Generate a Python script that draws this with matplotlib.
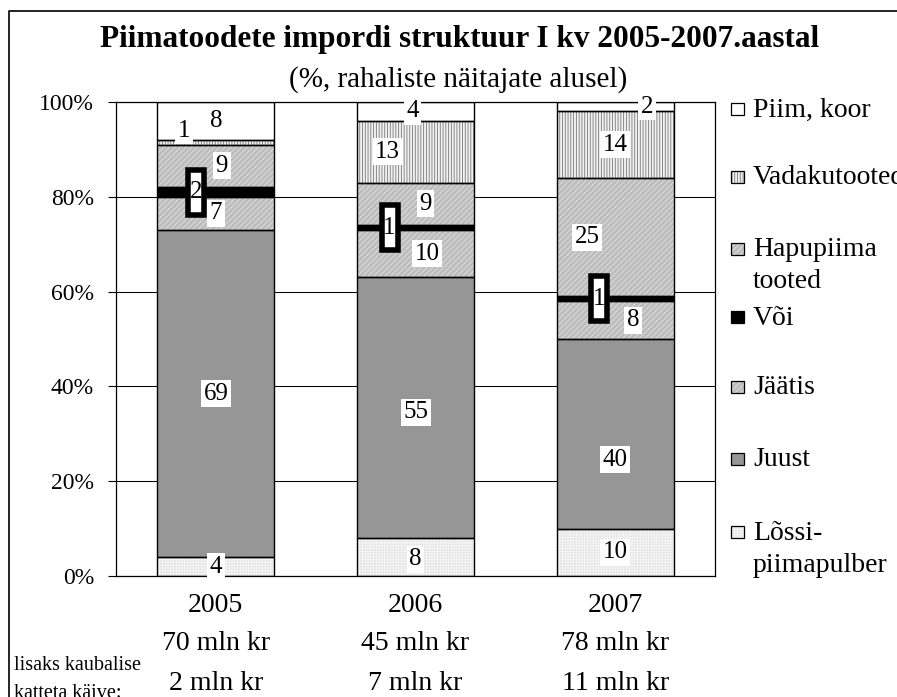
import matplotlib
matplotlib.use('Agg')
import matplotlib.pyplot as plt
import matplotlib.transforms as mtransforms
from matplotlib.patches import Rectangle
from matplotlib.lines import Line2D
import numpy as np

plt.rcParams['font.family'] = ['Liberation Serif', 'DejaVu Serif']
plt.rcParams['hatch.linewidth'] = 0.6

# data (percent of import value, Q1)
years = ['2005', '2006', '2007']
totals = ['70 mln kr', '45 mln kr', '78 mln kr']
extra = ['2 mln kr', '7 mln kr', '11 mln kr']

lossi = [4, 8, 10]
juust = [69, 55, 40]
jaatis = [7, 10, 8]
voi = [2, 1, 1]
hapupiima = [9, 9, 25]
vadak = [1, 13, 14]
piim = [8, 4, 2]

series_names = ['Lõssi-\npiimapulber', 'Juust', 'Jäätis', 'Või',
                'Hapupiima\ntooted', 'Vadakutooted', 'Piim, koor']
series_vals = [lossi, juust, jaatis, voi, hapupiima, vadak, piim]

# style per series: face, hatch, hatch colour
styles = [
    ('#e4e4e4', '++++++', '#f6f6f6'),
    ('#969696', None, '#969696'),
    ('#bdbdbd', '//////', '#e2e2e2'),
    ('black', None, 'black'),
    ('#bdbdbd', '//////', '#e2e2e2'),
    ('#f0f0f0', '||||||', '#7a7a7a'),
    ('white', None, 'white'),
]

# label nudges (dx in category units, dy in percent) per series, per year
label_dx = [[0, 0, 0], [0, 0, 0], [0, 0.06, 0.09], [-0.1, -0.13, -0.08],
            [0.03, 0.05, -0.14], [-0.16, -0.14, 0], [0, -0.015, 0.16]]
label_dy = [[0, -0.5, 0], [0, -1, -5.5], [0, 0, 0], [0, 0, 0],
            [0, 0, 0], [2.4, 0, 0], [0, 0, 0]]

W, H = 897, 697
BAR_W = 0.586
LBL = 18

fig = plt.figure(figsize=(W / 100, H / 100), dpi=100)
ax = fig.add_axes([116 / W, 1 - 576 / H, (715 - 116) / W, (576 - 102) / H])

x = np.arange(len(years))
bottom = np.zeros(len(years))
for i, (vals, (face, hatch, hcol)) in enumerate(zip(series_vals, styles)):
    vals = np.array(vals, dtype=float)
    ax.bar(x, vals, BAR_W, bottom=bottom, color=face, hatch=hatch,
           edgecolor=hcol, linewidth=0, zorder=2)
    ax.bar(x, vals, BAR_W, bottom=bottom, fill=False, edgecolor='black',
           linewidth=1.0, zorder=3)
    centers = bottom + vals / 2
    for j in range(len(years)):
        lx = x[j] + label_dx[i][j]
        ly = centers[j] + label_dy[i][j]
        if i == 3:
            trans = fig.dpi_scale_trans + mtransforms.ScaledTranslation(
                lx, ly, ax.transData)
            ax.add_artist(Rectangle((-0.08, -0.225), 0.16, 0.45,
                                    transform=trans, facecolor='white',
                                    edgecolor='black', linewidth=4,
                                    zorder=5, clip_on=False))
            ax.text(lx, ly, '%d' % vals[j], ha='center', va='center',
                    fontsize=LBL, zorder=6)
        else:
            ax.text(lx, ly, '%d' % vals[j], ha='center', va='center',
                    fontsize=LBL, zorder=6,
                    bbox=dict(boxstyle='square,pad=0.1', fc='white',
                              ec='none'))
    bottom = bottom + vals

ax.set_xlim(-0.5, 2.5)
ax.set_ylim(0, 100)
ax.set_xticks([])
ax.set_yticks(range(0, 101, 20))
ax.set_yticklabels(['%d%%' % v for v in range(0, 101, 20)], fontsize=17)
ax.tick_params(axis='y', length=5.8, width=0.8, pad=10, direction='out')
ax.yaxis.grid(True, color='black', linewidth=0.75)
ax.set_axisbelow(True)
for sp in ax.spines.values():
    sp.set_linewidth(0.9)

# category texts under the bars
tr = mtransforms.blended_transform_factory(ax.transData, fig.transFigure)
for j in range(len(years)):
    ax.text(x[j], 1 - 606 / H, years[j], transform=tr, ha='center',
            va='center', fontsize=20)
    ax.text(x[j], 1 - 644 / H, totals[j], transform=tr, ha='center',
            va='center', fontsize=20)
    ax.text(x[j], 1 - 683 / H, extra[j], transform=tr, ha='center',
            va='center', fontsize=20)
fig.text(14 / W, 1 - 665 / H, 'lisaks kaubalise', ha='left', va='center',
         fontsize=14.5)
fig.text(14 / W, 1 - 693 / H, 'katteta käive:', ha='left', va='center',
         fontsize=14.5)

fig.text(460 / W, 1 - 40 / H,
         'Piimatoodete impordi struktuur I kv 2005-2007.aastal',
         ha='center', va='center', fontsize=22.5, fontweight='bold')
fig.text(458 / W, 1 - 80 / H, '(%, rahaliste näitajate alusel)',
         ha='center', va='center', fontsize=21)

# legend, top entry first
leg_y = [110, 178, 250, 318, 388, 460, 533]
for k, idx in enumerate(range(len(series_names) - 1, -1, -1)):
    face, hatch, hcol = styles[idx]
    cy = leg_y[k]
    box = (731 / W, 1 - (cy + 5) / H)
    fig.add_artist(Rectangle(box, 13 / W, 12 / H, transform=fig.transFigure,
                             facecolor=face, hatch=hatch, edgecolor=hcol,
                             linewidth=0))
    fig.add_artist(Rectangle(box, 13 / W, 12 / H, transform=fig.transFigure,
                             fill=False, edgecolor='black', linewidth=0.9))
    for n, line in enumerate(series_names[idx].split('\n')):
        fig.text(753 / W, 1 - (cy + 32 * n) / H, line, ha='left',
                 va='center', fontsize=20)

# outer frame (right and bottom edges fall outside the picture)
fig.add_artist(Line2D([9 / W, 9 / W, 1.0], [0, 1 - 11 / H, 1 - 11 / H],
                      color='black', linewidth=1.2,
                      transform=fig.transFigure))

fig.savefig('out.png', dpi=100)
